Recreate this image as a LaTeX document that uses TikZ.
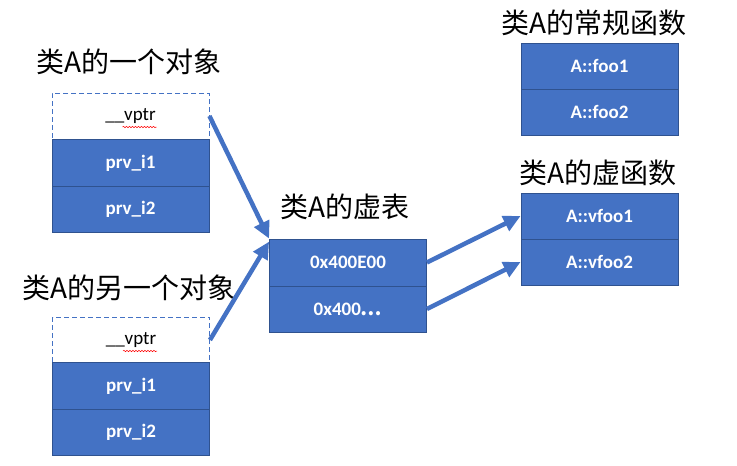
\documentclass[tikz,border=0pt]{standalone}
\usepackage{fontspec}
\setmainfont{Carlito}
\newfontfamily\cjk{Noto Sans CJK SC}
\usetikzlibrary{arrows.meta,calc,decorations.pathmorphing}
\definecolor{boxfill}{HTML}{4472C4}
\definecolor{boxline}{HTML}{2F528F}
\begin{document}
\begin{tikzpicture}[x=1pt,y=-1pt,
  cell/.style={draw=boxline,fill=boxfill,line width=0.8pt,minimum width=157pt,inner sep=0pt,
    text=white,font=\fontsize{19}{19}\selectfont\bfseries},
  ptrcell/.style={draw=boxfill,dashed,dash pattern=on 5pt off 3pt,line width=0.9pt,fill=white,
    minimum width=157pt,minimum height=46pt,inner sep=0pt,font=\fontsize{19}{19}\selectfont},
  title/.style={font=\cjk\fontsize{28}{28}\selectfont,inner sep=0pt},
  link/.style={draw=boxfill,line width=4.5pt,-{Triangle[length=17pt,width=16pt]}},
  squiggle/.style={draw=red,line width=0.5pt,decorate,decoration={snake,amplitude=0.7pt,segment length=3pt}}]
\useasboundingbox (0,0) rectangle (737,466);
% object 1
\node[title] (t1) at (129,62) {类A的一个对象};
\node[ptrcell] (v1) at (130.5,116) {\_\_vptr};
\node[cell,minimum height=47pt] (p11) at (130.5,163) {prv\_i1};
\node[cell,minimum height=46pt] (p12) at (130.5,209.5) {prv\_i2};
% object 2
\node[title] (t2) at (129,288) {类A的另一个对象};
\node[ptrcell] (v2) at (131,340) {\_\_vptr};
\node[cell,minimum height=47pt] (p21) at (131,386) {prv\_i1};
\node[cell,minimum height=46pt] (p22) at (131,432) {prv\_i2};
% vtable
\node[title] (t3) at (345,207) {类A的虚表};
\node[cell,minimum height=47pt] (vt1) at (348,262.5) {0x400E00};
\node[cell,minimum height=46pt] (vt2) at (348,309) {0x400{\cjk ⋯}};
% regular functions
\node[title] (t4) at (594,23) {类A的常规函数};
\node[cell,minimum height=46pt] (f1) at (599.5,66) {A::foo1};
\node[cell,minimum height=46pt] (f2) at (599.5,112) {A::foo2};
% virtual functions
\node[title] (t5) at (598,173) {类A的虚函数};
\node[cell,minimum height=46pt] (vf1) at (599.5,216) {A::vfoo1};
\node[cell,minimum height=46pt] (vf2) at (599.5,262) {A::vfoo2};
% spell-check squiggles
\draw[squiggle] ($(v1.center)+(-8,11)$) -- ($(v1.center)+(26,11)$);
\draw[squiggle] ($(v2.center)+(-8,11)$) -- ($(v2.center)+(26,11)$);
% connectors
\draw[link] (v1.east) -- (vt1.north west);
\draw[link] (v2.east) -- ($(vt1.north west)+(0,3)$);
\draw[link] (vt1.east) -- (vf1.west);
\draw[link] (vt2.east) -- (vf2.west);
\end{tikzpicture}
\end{document}
